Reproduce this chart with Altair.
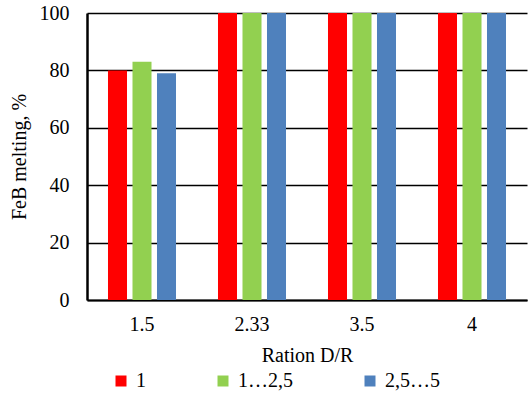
import altair as alt
import pandas as pd

ratios = ["1.5", "2.33", "3.5", "4"]
series = ["1", "1…2,5", "2,5…5"]
s1 = [80, 100, 100, 100]
s2 = [83, 100, 100, 100]
s3 = [79, 100, 100, 100]
colors = ["#FF0000", "#92D050", "#4F81BD"]

rows = []
for i, r in enumerate(ratios):
    for name, vals in zip(series, [s1, s2, s3]):
        rows.append({"ratio": r, "series": name, "value": vals[i]})
df = pd.DataFrame(rows)

FONT = "Liberation Serif"
FS = 20

chart = alt.Chart(df).mark_bar().encode(
    x=alt.X("ratio:N", sort=ratios,
            scale=alt.Scale(paddingInner=0, paddingOuter=0),
            axis=alt.Axis(title="Ration D/R", labelAngle=0, ticks=False,
                          domainColor="black", domainWidth=2,
                          labelPadding=14, titlePadding=11)),
    xOffset=alt.XOffset("series:N", sort=series,
                        scale=alt.Scale(paddingInner=0.224, paddingOuter=0.857)),
    y=alt.Y("value:Q",
            scale=alt.Scale(domain=[0, 100]),
            axis=alt.Axis(title="FeB melting, %", values=[0, 20, 40, 60, 80, 100],
                          ticks=False, grid=True, gridColor="black", gridWidth=1.5,
                          domainColor="black", domainWidth=2.5,
                          labelPadding=18, titlePadding=10)),
    color=alt.Color("series:N", sort=series,
                    scale=alt.Scale(domain=series, range=colors),
                    legend=alt.Legend(title=None, orient="none", direction="horizontal",
                                      legendX=24, legendY=358,
                                      symbolType="square", symbolSize=121,
                                      symbolStrokeWidth=0, columnPadding=67,
                                      labelFont=FONT, labelFontSize=FS,
                                      labelColor="black", labelOffset=5)),
).properties(
    width=440, height=287,
    background="white",
    autosize=alt.AutoSizeParams(type="none"),
    padding={"left": 87, "top": 13, "right": 1, "bottom": 96},
).configure_view(stroke=None).configure_axis(
    labelFont=FONT, labelFontSize=FS, labelColor="black",
    titleFont=FONT, titleFontSize=FS, titleColor="black", titleFontWeight="normal",
)

chart.save("out.html", embed_options={"renderer": "svg", "actions": False})
